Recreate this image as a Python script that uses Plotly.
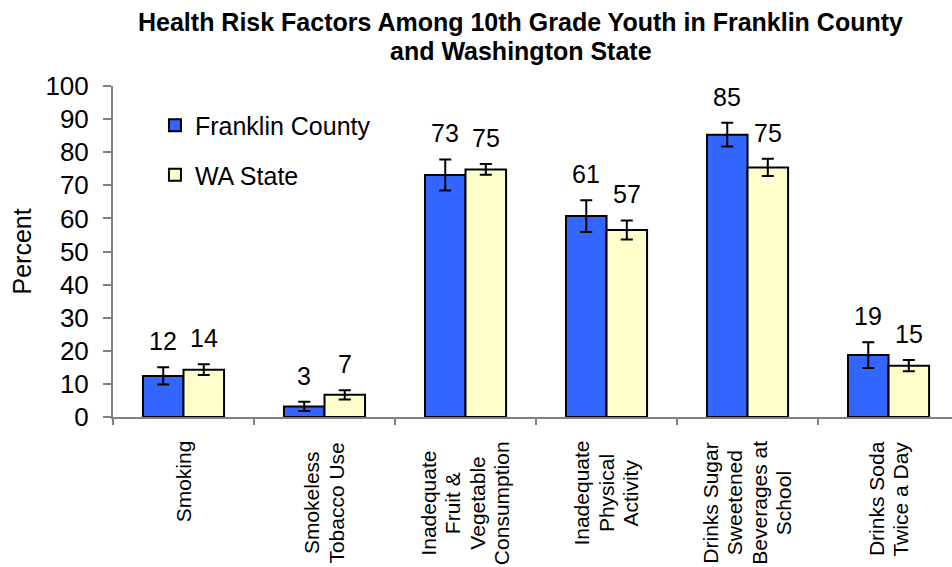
import plotly.graph_objects as go

categories = [["Smoking"], ["Smokeless", "Tobacco Use"], ["Inadequate", "Fruit &", "Vegetable", "Consumption"],
              ["Inadequate", "Physical", "Activity"], ["Drinks Sugar", "Sweetened", "Beverages at", "School"],
              ["Drinks Soda", "Twice a Day"]]
franklin = [12.4, 3.2, 73.1, 60.7, 85.3, 18.7]
franklin_err = [2.6, 1.4, 4.7, 4.8, 3.6, 3.9]
franklin_labels = ["12", "3", "73", "61", "85", "19"]
wa = [14.3, 6.7, 74.8, 56.5, 75.4, 15.5]
wa_err = [1.6, 1.4, 1.6, 2.9, 2.6, 1.7]
wa_labels = ["14", "7", "75", "57", "75", "15"]
yticks = [0, 10, 20, 30, 40, 50, 60, 70, 80, 90, 100]
title_lines = ["Health Risk Factors Among 10th Grade Youth in Franklin County", "and Washington State"]

FONT = "Arial, Liberation Sans, sans-serif"
CAT_SIZE = 21
LINE_STEP = 24.5
# Arial advance widths (per 1000 em) used only to centre multi-line rotated labels
ARIAL_W = {" ": 278, "&": 667, "A": 667, "B": 667, "C": 722, "D": 722, "F": 611, "I": 278, "P": 667,
           "S": 667, "T": 611, "U": 722, "V": 667, "a": 556, "b": 556, "c": 500, "d": 556, "e": 556,
           "g": 556, "h": 556, "i": 222, "k": 500, "l": 222, "m": 833, "n": 556, "o": 556, "p": 556,
           "q": 556, "r": 333, "s": 500, "t": 278, "u": 556, "v": 500, "w": 722, "y": 500}


def text_len(s, size):
    return sum(ARIAL_W.get(ch, 556) for ch in s) * size / 1000.0


x_idx = list(range(len(categories)))

fig = go.Figure()
fig.add_trace(go.Bar(
    x=x_idx, y=franklin, name="Franklin County",
    marker=dict(color="#3366FF", line=dict(color="black", width=2)),
    error_y=dict(type="data", array=franklin_err, color="black", thickness=2, width=6),
    legendgroup="a",
))
fig.add_trace(go.Bar(
    x=x_idx, y=wa, name="WA State",
    marker=dict(color="#FFFFCC", line=dict(color="black", width=2)),
    error_y=dict(type="data", array=wa_err, color="black", thickness=2, width=6),
    legendgroup="b",
))

annotations = []
half = 20.25
for i in x_idx:
    annotations.append(dict(x=i, y=franklin[i] + franklin_err[i], xref="x", yref="y",
                            text=franklin_labels[i], showarrow=False, xshift=-half, yshift=10,
                            yanchor="bottom", font=dict(family=FONT, size=25, color="black")))
    annotations.append(dict(x=i, y=wa[i] + wa_err[i], xref="x", yref="y",
                            text=wa_labels[i], showarrow=False, xshift=half, yshift=10,
                            yanchor="bottom", font=dict(family=FONT, size=25, color="black")))
    lines = categories[i]
    maxlen = max(text_len(s, CAT_SIZE) for s in lines)
    n = len(lines)
    for j, s in enumerate(lines):
        annotations.append(dict(x=i, y=0, xref="x", yref="y", text=s, showarrow=False,
                                textangle=-90, yanchor="middle", xanchor="center",
                                xshift=(j - (n - 1) / 2) * LINE_STEP, yshift=-(24 + maxlen / 2),
                                font=dict(family=FONT, size=CAT_SIZE, color="black")))

annotations.append(dict(x=0, y=0.5, xref="paper", yref="paper", text="Percent", showarrow=False,
                        textangle=-90, xshift=-92, xanchor="center", yanchor="middle",
                        font=dict(family=FONT, size=25, color="black")))

for line, shift in zip(title_lines, [64.5, 35.5]):
    annotations.append(dict(x=0.4857, y=1, xref="paper", yref="paper", text="<b>" + line + "</b>",
                            showarrow=False, xanchor="center", yanchor="middle", yshift=shift,
                            font=dict(family=FONT, size=25, color="black")))

fig.update_layout(
    width=952, height=567,
    margin=dict(l=113, r=0, t=86, b=150),
    paper_bgcolor="white", plot_bgcolor="white",
    barmode="group", bargap=0.425, bargroupgap=0,
    showlegend=True,
    legend=dict(x=0.05, y=0.95, xanchor="left", yanchor="top", bgcolor="rgba(0,0,0,0)",
                font=dict(family=FONT, size=25, color="black"), traceorder="grouped",
                tracegroupgap=14, itemwidth=30),
    annotations=annotations,
    xaxis=dict(range=[-0.5, 5.45], showticklabels=False, tickmode="array", tickvals=[i - 0.5 for i in x_idx],
               ticks="outside", ticklen=6, tickcolor="#808080", tickwidth=2,
               showline=True, linecolor="#808080", linewidth=2, showgrid=False, zeroline=False),
    yaxis=dict(range=[0, 100], tickvals=yticks, ticks="outside", ticklen=8, tickcolor="#808080", tickwidth=2,
               showline=True, linecolor="#808080", linewidth=2, showgrid=False, zeroline=False,
               tickfont=dict(family=FONT, size=26, color="black"), ticklabelstandoff=9),
)

fig.write_html("out.html", config={"displayModeBar": False},
               post_script="document.body.style.margin='0';document.body.style.overflow='hidden';")
